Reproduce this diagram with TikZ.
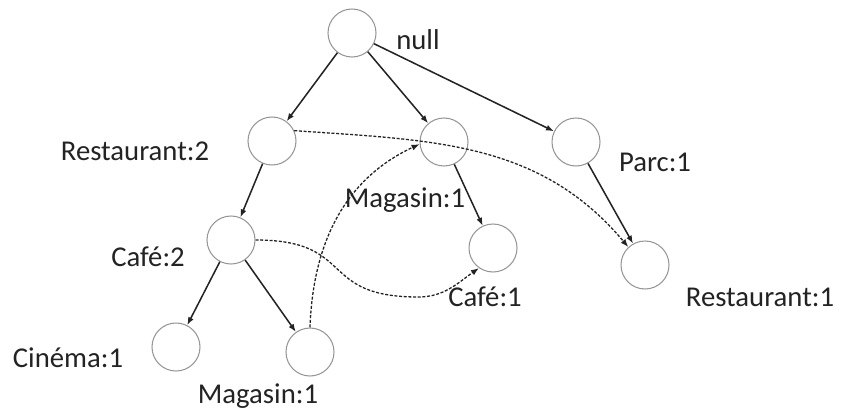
\documentclass[tikz,border=0pt]{standalone}
\usepackage{fontspec}
\setmainfont{Carlito}
\usetikzlibrary{arrows.meta,positioning}
\definecolor{ringgray}{RGB}{150,150,150}
\definecolor{inkblack}{RGB}{35,35,35}

\begin{document}
\begin{tikzpicture}[x=0.03cm, y=-0.03cm,
    item/.style={circle, draw=ringgray, line width=0.9pt, minimum size=1.44cm, inner sep=0pt},
    lbl/.style={font=\fontsize{24.5}{29}\selectfont, text=inkblack, inner sep=0pt},
    edge/.style={draw=inkblack, line width=1.3pt, -{Latex[length=2.4mm,width=1.8mm]}},
    link/.style={draw=inkblack, line width=1.1pt, dash pattern=on 0.09cm off 0.05cm,
                 -{Latex[length=2.4mm,width=1.8mm]}}]
    \useasboundingbox (0,0) rectangle (843,413);
    % tree nodes
    \node[item] (nul)   at (352,33)  {};
    \node[item] (rest2) at (272,141) {};
    \node[item] (mag1)  at (444,142) {};
    \node[item] (parc)  at (576,142) {};
    \node[item] (cafe2) at (231,240) {};
    \node[item] (cafe1) at (493,248) {};
    \node[item] (rest1) at (645,265) {};
    \node[item] (cine)  at (176,347) {};
    \node[item] (mag2)  at (310,352) {};
    % labels
    \node[lbl] (lnul)   at (418,40)  {null};
    \node[lbl] (lrest2) at (135,151) {Restaurant:2};
    \node[lbl] (lmag1)  at (405,200) {Magasin:1};
    \node[lbl] (lparc)  at (655,162) {Parc:1};
    \node[lbl] (lcafe2) at (148,257) {Café:2};
    \node[lbl] (lcafe1) at (485,297) {Café:1};
    \node[lbl] (lrest1) at (760,297) {Restaurant:1};
    \node[lbl] (lcine)  at (68,358)  {Cinéma:1};
    \node[lbl] (lmag2)  at (258,396) {Magasin:1};
    % tree edges
    \draw[edge] (nul) -- (rest2);
    \draw[edge] (nul) -- (mag1);
    \draw[edge] (nul) -- (parc);
    \draw[edge] (rest2) -- (cafe2);
    \draw[edge] (mag1) -- (cafe1);
    \draw[edge] (parc) -- (rest1);
    \draw[edge] (cafe2) -- (cine);
    \draw[edge] (cafe2) -- (mag2);
    % node links
    \coordinate (dip) at (418,297);
    \draw[link] (rest2.25) to[out=-4, in=130] (rest1.133);
    \draw[link] (cafe2.east) to[out=0, in=180, looseness=1.5] (dip) to[out=0, in=215] (cafe1.235);
    \draw[link] (mag2.north) to[out=88, in=205] (mag1.185);
\end{tikzpicture}
\end{document}
